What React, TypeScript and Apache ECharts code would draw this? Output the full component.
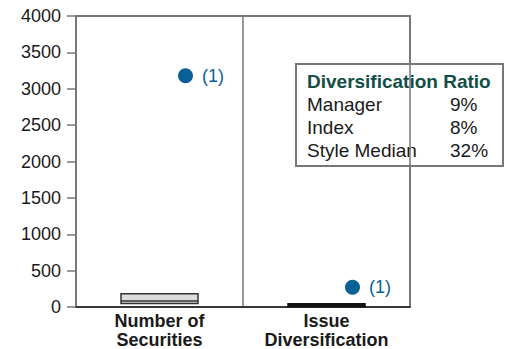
import React, { useEffect, useRef } from "react";
import * as echarts from "echarts";

const categories = ["Number of\nSecurities", "Issue\nDiversification"];
// [min, Q1, median, Q3, max]
const boxValues = [
  [49, 49, 84, 181, 181],
  [5, 5, 25, 45, 45],
];
const managerValues = [3180, 273];
const yTicks = { min: 0, max: 4000, interval: 500 };
const ratioRows = [
  ["Manager", "9%"],
  ["Index", "8%"],
  ["Style Median", "32%"],
];
const ratioTitle = "Diversification Ratio";

const FONT = "Liberation Sans, Arial, sans-serif";
const BLUE = "#0a6198";
const GRAY = "#777777";
const TEXT = "#1a1a1a";

export default function App() {
  const ref = useRef<HTMLDivElement>(null);
  useEffect(() => {
    if (!ref.current) return;
    const chart = echarts.init(ref.current, null, { renderer: "svg" });
    const legendChildren: any[] = [
      {
        type: "rect",
        shape: { x: 296, y: 64, width: 207, height: 102 },
        style: { fill: "#ffffff", stroke: GRAY, lineWidth: 2 },
      },
      {
        type: "text",
        x: 307,
        y: 81,
        style: {
          text: ratioTitle,
          font: `bold 19px ${FONT}`,
          fill: "#124e46",
          verticalAlign: "middle",
        },
      },
    ];
    ratioRows.forEach((r, i) => {
      const y = 104 + i * 23;
      legendChildren.push({
        type: "text",
        x: 307,
        y,
        style: { text: r[0], font: `19px ${FONT}`, fill: TEXT, verticalAlign: "middle" },
      });
      legendChildren.push({
        type: "text",
        x: 450,
        y,
        style: { text: r[1], font: `19px ${FONT}`, fill: TEXT, verticalAlign: "middle" },
      });
    });
    chart.setOption({
      animation: false,
      textStyle: { fontFamily: FONT },
      grid: {
        left: 76,
        right: 105,
        top: 16,
        bottom: 40,
        show: true,
        borderColor: GRAY,
        borderWidth: 2,
        backgroundColor: "transparent",
      },
      xAxis: {
        type: "category",
        data: categories,
        boundaryGap: true,
        axisTick: { show: false },
        axisLine: { show: true, lineStyle: { color: "#222", width: 1.5 } },
        splitLine: { show: true, interval: 0, lineStyle: { color: GRAY, width: 1.5 } },
        axisLabel: {
          fontSize: 18,
          fontWeight: "bold",
          color: TEXT,
          lineHeight: 19,
          margin: 4,
          interval: 0,
        },
      },
      yAxis: {
        type: "value",
        min: yTicks.min,
        max: yTicks.max,
        interval: yTicks.interval,
        axisLine: { show: true, lineStyle: { color: GRAY, width: 2 } },
        axisTick: { show: true, length: 9, lineStyle: { color: GRAY, width: 1.5 } },
        splitLine: { show: false },
        axisLabel: {
          fontSize: 18,
          color: TEXT,
          margin: 15,
          formatter: (v: number) => String(v),
        },
      },
      series: [
        {
          type: "boxplot",
          data: boxValues.map((v, i) =>
            i === 1
              ? { value: v, itemStyle: { color: "#111", borderColor: "#111" } }
              : { value: v }
          ),
          boxWidth: [77, 77],
          itemStyle: { color: "#dcdcdc", borderColor: "#333", borderWidth: 1.5 },
          emphasis: { disabled: true },
        },
        {
          type: "scatter",
          data: managerValues,
          symbol: "circle",
          symbolSize: 15,
          symbolOffset: [26, 0],
          itemStyle: { color: BLUE, opacity: 1 },
          label: {
            show: true,
            position: "right",
            formatter: "(1)",
            distance: 9,
            fontSize: 18,
            color: BLUE,
          },
          emphasis: { disabled: true },
          z: 5,
        },
      ],
      graphic: [{ type: "group", z: 100, children: legendChildren }],
    });
    return () => chart.dispose();
  }, []);
  return (
    <div
      ref={ref}
      style={{ position: "fixed", left: 0, top: 0, width: 515, height: 349, background: "#fff" }}
    />
  );
}
